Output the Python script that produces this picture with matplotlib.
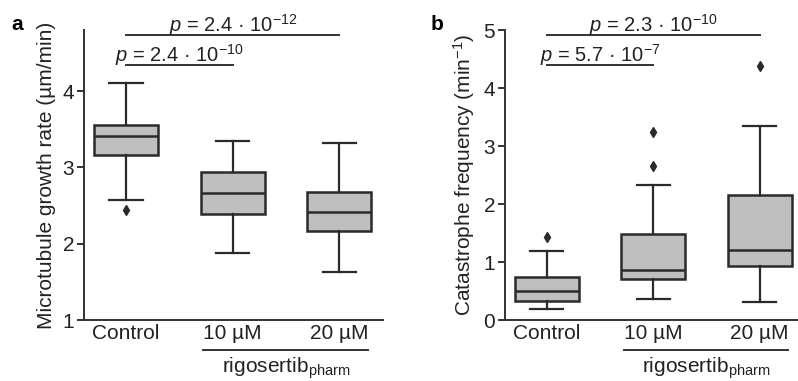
import numpy as np
import matplotlib
matplotlib.use("Agg")
from matplotlib import pyplot as plt

plt.rcParams["font.family"] = ["Liberation Sans", "DejaVu Sans"]
plt.rcParams["mathtext.fontset"] = "custom"
plt.rcParams["mathtext.rm"] = "Liberation Sans"
plt.rcParams["mathtext.it"] = "Liberation Sans:italic"
plt.rcParams["mathtext.bf"] = "Liberation Sans:bold"

categories = ["Control", "10 µM", "20 µM"]

# panel a: growth rate (µm/min)
growth_q1 = [3.16, 2.39, 2.16]
growth_med = [3.41, 2.67, 2.42]
growth_q3 = [3.555, 2.94, 2.68]
growth_lo = [2.57, 1.88, 1.63]
growth_hi = [4.10, 3.34, 3.32]
growth_fliers = [[2.44], [], []]

# panel b: catastrophe frequency (1/min)
cat_q1 = [0.33, 0.71, 0.93]
cat_med = [0.505, 0.87, 1.21]
cat_q3 = [0.74, 1.48, 2.16]
cat_lo = [0.19, 0.36, 0.31]
cat_hi = [1.19, 2.33, 3.35]
cat_fliers = [[1.43], [3.24, 2.66], [4.38]]

p_growth = [("2.4", "-10"), ("2.4", "-12")]
p_cat = [("5.7", "-7"), ("2.3", "-10")]

dark = "#2a2a2a"
fs = 15
fs_p = 14.5

fig = plt.figure(figsize=(7.98, 3.81), dpi=100)
ax_a = fig.add_axes([84/798, 61/381, 299/798, 290/381])
ax_b = fig.add_axes([505/798, 61/381, 293/798, 290/381])


def draw_panel(ax, q1, med, q3, lo, hi, fliers, pvals, ylim, yticks, ylabel, bar_y):
    stats = []
    for i in range(len(categories)):
        stats.append(dict(q1=q1[i], med=med[i], q3=q3[i], whislo=lo[i], whishi=hi[i],
                          fliers=fliers[i], label=categories[i]))
    ax.bxp(stats, positions=range(len(categories)), widths=0.6, patch_artist=True,
           boxprops=dict(facecolor="#bfbfbf", edgecolor=dark, linewidth=1.8),
           medianprops=dict(color=dark, linewidth=1.8),
           whiskerprops=dict(color=dark, linewidth=1.6),
           capprops=dict(color=dark, linewidth=1.6),
           capwidths=0.31,
           flierprops=dict(marker="d", markersize=5.5, markerfacecolor=dark,
                           markeredgecolor=dark))
    ax.set_ylim(*ylim)
    ax.set_yticks(yticks)
    for s in ["top", "right"]:
        ax.spines[s].set_visible(False)
    for s in ["left", "bottom"]:
        ax.spines[s].set_color("#333333")
        ax.spines[s].set_linewidth(1.4)
    ax.tick_params(axis="both", labelsize=fs, colors="#333333", length=5, width=1.4,
                   labelcolor="#222222", pad=2)
    ax.tick_params(axis="x", length=0, pad=3)
    ax.set_ylabel(ylabel, fontsize=fs, color="#222222", labelpad=5)

    # significance bars
    for (j, (mant, ex)), y in zip(enumerate(pvals), bar_y):
        x2 = 1 if j == 0 else 2
        ax.plot([0, x2], [y, y], color="#333333", lw=1.4, clip_on=False)
        ax.text(x2 / 2, y + 0.011 * (ylim[1] - ylim[0]),
                r"$p$ = %s · 10$^{%s}$" % (mant, ex.replace("-", "\u2212")),
                ha="center", va="baseline", fontsize=fs_p, color="#222222")

    # treatment group bracket below axis
    ax.plot([0.72, 2.27], [-0.103, -0.103], color="#333333", lw=1.4,
            transform=ax.get_xaxis_transform(), clip_on=False)
    ax.text(1.5, -0.168, r"rigosertib$_{\mathrm{pharm}}$", ha="center", va="center",
            fontsize=fs, color="#222222", transform=ax.get_xaxis_transform())
    return ax


draw_panel(ax_a, growth_q1, growth_med, growth_q3, growth_lo, growth_hi, growth_fliers,
           p_growth, (1, 4.8), [1, 2, 3, 4], "Microtubule growth rate (µm/min)",
           [4.34, 4.73])
ax_a.set_xlim(-0.394, 2.41)

draw_panel(ax_b, cat_q1, cat_med, cat_q3, cat_lo, cat_hi, cat_fliers,
           p_cat, (0, 5), [0, 1, 2, 3, 4, 5], r"Catastrophe frequency (min$^{\mathrm{-1}}$)",
           [4.40, 4.91])
ax_b.set_xlim(-0.394, 2.36)

fig.text(17/798, 1 - 25/381, "a", fontsize=15, fontweight="bold", ha="center", va="center")
fig.text(437/798, 1 - 25/381, "b", fontsize=15, fontweight="bold", ha="center", va="center")

fig.savefig("out.png", dpi=100, facecolor="white")
